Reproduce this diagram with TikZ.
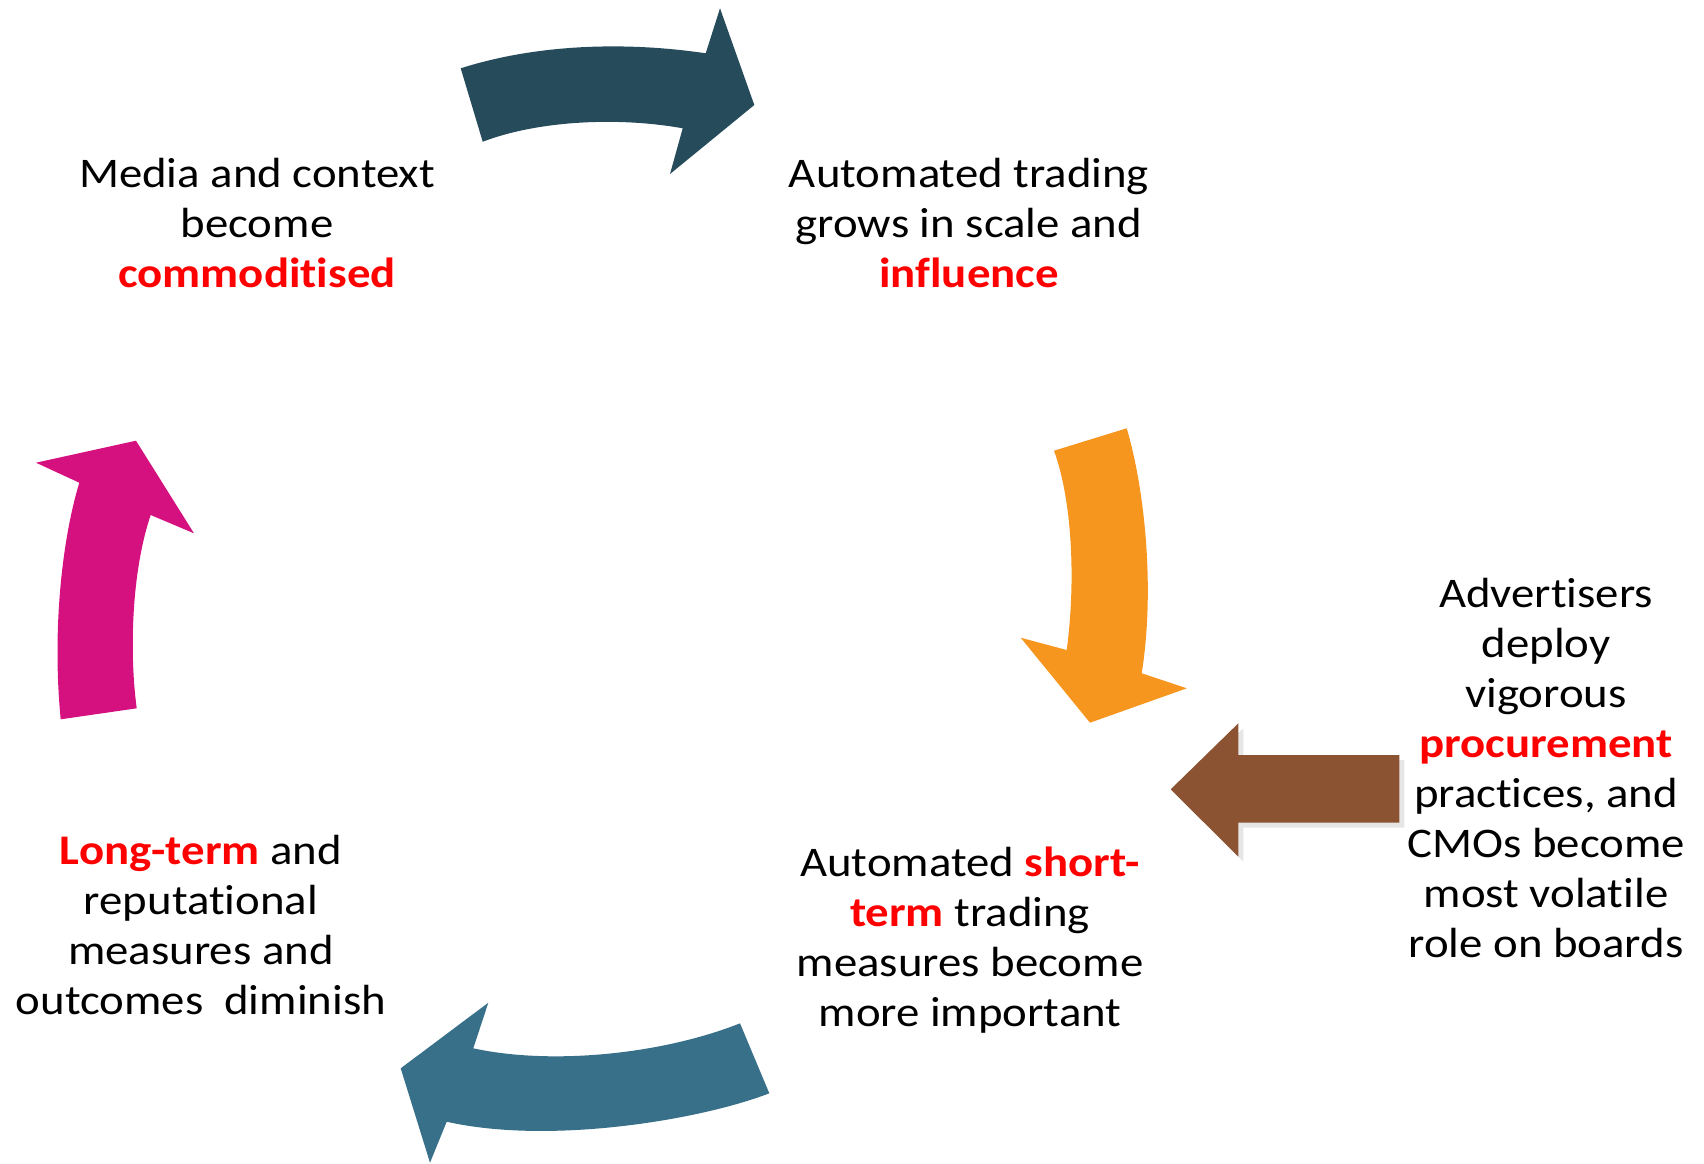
\documentclass[tikz,border=0pt]{standalone}
\usepackage{fontspec}
\setmainfont{Carlito}[FakeStretch=1.11, Ligatures=NoCommon]
\usepackage{xcolor}
\usetikzlibrary{shadows}

\definecolor{cycleteal}{HTML}{264B5A}
\definecolor{cycleorange}{HTML}{F6961F}
\definecolor{cyclepink}{HTML}{D5107F}
\definecolor{cycleblue}{HTML}{387089}
\definecolor{pushbrown}{HTML}{8B5332}
\definecolor{keyred}{HTML}{FF0000}

\newcommand{\key}[1]{\textcolor{keyred}{\bfseries #1}}

\begin{document}
\begin{tikzpicture}[
  x=1cm, y=-1cm,
  font=\fontsize{12}{14.2}\selectfont,
  stage/.style={align=center, inner sep=0pt},
  push/.style={fill=pushbrown, drop shadow={shadow xshift=0.5mm, shadow yshift=-0.5mm, opacity=0.2}}
]
\useasboundingbox (0,0) rectangle (17.04,11.63);

% the four stages
\node[stage] (media) at (2.57,2.23) {Media and context\\become\\\key{commoditised}};
\node[stage] (trade) at (9.69,2.23) {Automated trading\\grows in scale and\\\key{influence}};
\node[stage] (short) at (9.70,9.40) {Automated \key{short-}\\\key{term} trading\\measures become\\more important};
\node[stage] (long) at (2.01,9.25) {\key{Long-term} and\\reputational\\measures and\\outcomes\ \ diminish};

% outside pressure
\node[stage] (buyers) at (15.46,7.68) {Advertisers\\deploy\\vigorous\\\key{procurement}\\practices, and\\CMOs become\\most volatile\\role on boards};

% curved arrows of the cycle
\fill[cycleteal] (4.607,0.683) .. controls (5.4,0.43) and (6.3,0.42) .. (7.057,0.533)
  -- (7.2,0.083) -- (7.543,1.05) -- (6.7,1.74) -- (6.827,1.283)
  .. controls (6.2,1.17) and (5.4,1.2) .. (4.827,1.417) -- cycle;

\fill[cycleorange] (10.54,4.507) -- (11.267,4.283)
  .. controls (11.45,4.9) and (11.55,5.9) .. (11.417,6.733)
  -- (11.867,6.883) -- (10.9,7.227) -- (10.207,6.377) -- (10.667,6.5)
  .. controls (10.76,5.8) and (10.72,5.0) .. cycle;

\fill[cycleblue] (7.4,10.233) -- (7.693,10.933)
  .. controls (7.0,11.2) and (5.5,11.45) .. (4.467,11.217)
  -- (4.3,11.627) -- (4.007,10.683) -- (4.883,10.027) -- (4.733,10.483)
  .. controls (5.5,10.65) and (6.6,10.55) .. cycle;

\fill[cyclepink] (0.607,7.193) -- (1.367,7.083)
  .. controls (1.29,6.5) and (1.32,5.7) .. (1.507,5.15)
  -- (1.94,5.333) -- (1.36,4.407) -- (0.36,4.627) -- (0.793,4.827)
  .. controls (0.62,5.4) and (0.52,6.3) .. cycle;

% block arrow into the cycle
\path[push] (11.707,7.893) -- (12.383,7.233) -- (12.383,7.55) -- (13.993,7.55)
  -- (13.993,8.227) -- (12.383,8.227) -- (12.383,8.567) -- cycle;
\end{tikzpicture}
\end{document}
